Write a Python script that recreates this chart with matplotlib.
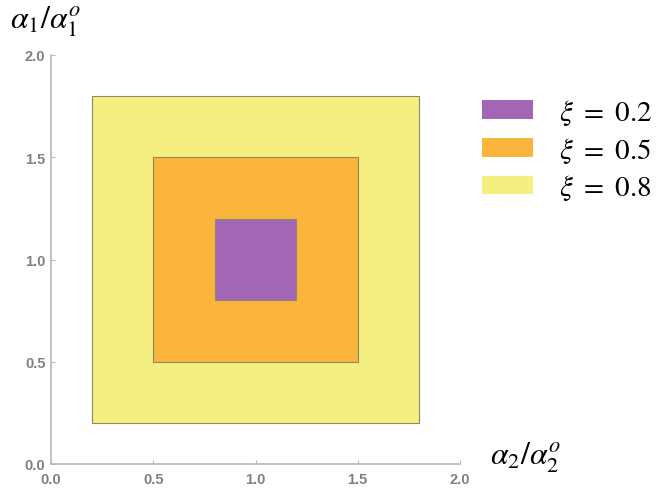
import matplotlib.pyplot as plt
from matplotlib.patches import Rectangle, Patch

plt.rcParams['mathtext.fontset'] = 'stix'
plt.rcParams['font.family'] = ['Liberation Sans', 'DejaVu Sans']

# data: square regions centred on (1, 1) with half-width xi
xi_values = [0.8, 0.5, 0.2]
colors = ['#f5ee80', '#fbb43c', '#a366b4']
center = (1.0, 1.0)
ticks = [0.0, 0.5, 1.0, 1.5, 2.0]
tick_labels = ['0.0', '0.5', '1.0', '1.5', '2.0']

fig = plt.figure(figsize=(6.61, 4.89), dpi=100)
ax = fig.add_axes([51 / 661, 24 / 489, 409 / 661, 409 / 489])

for xi, c in zip(xi_values, colors):
    ax.add_patch(Rectangle((center[0] - xi, center[1] - xi), 2 * xi, 2 * xi,
                           facecolor=c, edgecolor='#8a8a70', linewidth=0.8))

ax.set_xlim(0, 2)
ax.set_ylim(0, 2)
for s in ['top', 'right']:
    ax.spines[s].set_visible(False)
for s in ['left', 'bottom']:
    ax.spines[s].set_color('#b8b8b8')
    ax.spines[s].set_linewidth(1.2)
ax.set_xticks(ticks)
ax.set_yticks(ticks)
ax.set_xticklabels(tick_labels)
ax.set_yticklabels(tick_labels)
ax.tick_params(direction='in', length=3, color='#b8b8b8', labelcolor='#808080',
               labelsize=10.5, pad=4)
ax.tick_params(axis='x', pad=6)
for lab in ax.get_xticklabels() + ax.get_yticklabels():
    lab.set_fontweight('bold')

fig.text(10 / 661, 1 - 22 / 489, r'$\alpha_1/\alpha_1^o$', fontsize=23, va='center')
fig.text(490 / 661, 1 - 458 / 489, r'$\alpha_2/\alpha_2^o$', fontsize=23, va='center')

handles = [Patch(facecolor=c, edgecolor='none') for c in colors[::-1]]
labels = [r'$\xi\ =\ $%.1f' % xi for xi in xi_values[::-1]]
leg = fig.legend(handles, labels, loc='upper left', bbox_to_anchor=(470 / 661, 1 - 86 / 489),
                 frameon=False, fontsize=21, handlelength=1.75, handleheight=0.6,
                 handletextpad=0.9, labelspacing=0.27, borderaxespad=0)
for t in leg.get_texts():
    t.set_family('STIXGeneral')

fig.savefig('out.png', dpi=100)
